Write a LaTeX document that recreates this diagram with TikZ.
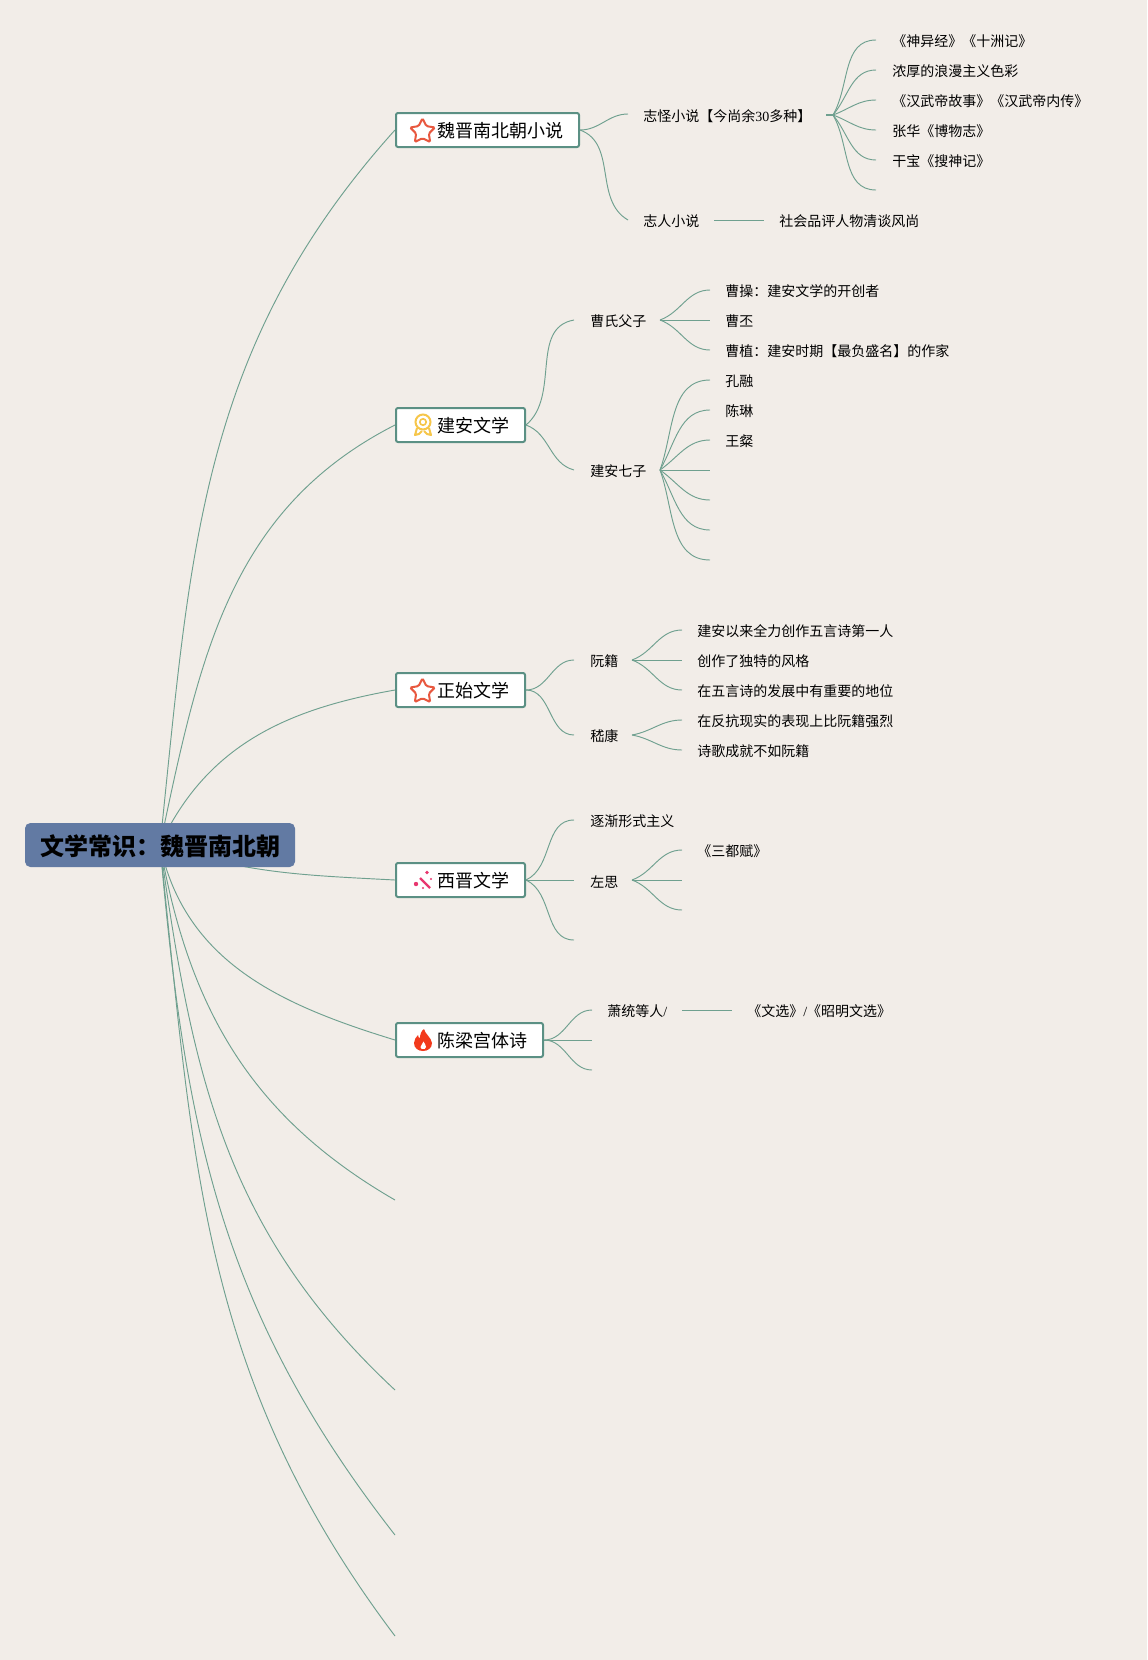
\documentclass[tikz,border=0pt]{standalone}
\usepackage{fontspec}
\setmainfont{Noto Sans CJK SC}
\newfontfamily\numfont{Liberation Serif}
\usetikzlibrary{shapes.geometric}
\pgfdeclarelayer{edgelayer}
\pgfdeclarelayer{nodelayer}
\pgfsetlayers{edgelayer,nodelayer,main}
\definecolor{paper}{HTML}{F2EDE8}
\definecolor{branch}{HTML}{6FA08F}
\definecolor{rim}{HTML}{5B9084}
\definecolor{rootfill}{HTML}{627AA3}
\definecolor{starred}{HTML}{E8583F}
\definecolor{medal}{HTML}{F6C64A}
\definecolor{wand}{HTML}{E8376F}
\definecolor{flame}{HTML}{F23A1C}
\tikzstyle{none} = [inner sep=0pt, outer sep=0pt]
\tikzstyle{leaf} = [anchor=west, inner sep=0pt, yshift=-.4pt, font=\fontsize{10.5pt}{12pt}\selectfont]
\tikzstyle{topic} = [draw=rim, line width=1.5pt, fill=white, rounded corners=1.5pt, minimum height=25.5pt, inner sep=0pt, anchor=west, font=\fontsize{13.5pt}{16pt}\selectfont]
\tikzstyle{root} = [fill=rootfill, rounded corners=4pt, minimum width=202.5pt, minimum height=33pt, inner sep=0pt, font=\fontsize{18pt}{22pt}\selectfont\bfseries]
\tikzstyle{new edge style 1} = [draw=branch, line width=.7pt]
\tikzstyle{star icon} = [star, star points=5, star point ratio=1.95, minimum size=19.5pt, inner sep=0pt, draw=starred, line width=1.5pt, fill=white, rounded corners=1pt]

\begin{document}
\begin{tikzpicture}[x=.75pt, y=-.75pt]
	\useasboundingbox (0, 0) rectangle (1147, 1660);
	\begin{pgfonlayer}{nodelayer}
		\node [style=root] (0) at (160, 845) {\raisebox{-7.5pt}[0pt][0pt]{文学常识：魏晋南北朝}};
		\node [style=topic, minimum width=137.25pt] (1) at (395, 130) {};
		\node [style=topic, minimum width=96.75pt] (2) at (395, 425) {};
		\node [style=topic, minimum width=96.75pt] (3) at (395, 690) {};
		\node [style=topic, minimum width=96.75pt] (4) at (395, 880) {};
		\node [style=topic, minimum width=110.25pt] (5) at (395, 1040) {};
		\node [style=leaf, font=\fontsize{13.5pt}{16pt}\selectfont] (6) at (437, 130.5) {魏晋南北朝小说};
		\node [style=leaf, font=\fontsize{13.5pt}{16pt}\selectfont] (7) at (437, 425.5) {建安文学};
		\node [style=leaf, font=\fontsize{13.5pt}{16pt}\selectfont] (8) at (437, 690.5) {正始文学};
		\node [style=leaf, font=\fontsize{13.5pt}{16pt}\selectfont] (9) at (437, 880.5) {西晋文学};
		\node [style=leaf, font=\fontsize{13.5pt}{16pt}\selectfont] (10) at (437, 1040.5) {陈梁宫体诗};
		\node [style=none] (11) at (395, 1200) {};
		\node [style=none] (12) at (395, 1390) {};
		\node [style=none] (13) at (395, 1535) {};
		\node [style=none] (14) at (395, 1636) {};

		\node [style=none] (20) at (628, 114) {};
		\node [style=none] (21) at (628, 220) {};
		\node [style=leaf] (22) at (643, 116) {志怪小说【今尚余{\numfont 30}多种】};
		\node [style=leaf] (23) at (643, 221) {志人小说};
		\node [style=none] (24) at (826, 115) {};
		\node [style=none] (25) at (833, 115) {};
		\node [style=none] (26) at (876, 40) {};
		\node [style=none] (27) at (876, 70) {};
		\node [style=none] (28) at (876, 100) {};
		\node [style=none] (29) at (876, 130) {};
		\node [style=none] (30) at (876, 160) {};
		\node [style=none] (31) at (876, 190) {};
		\node [style=leaf] (32) at (892, 41) {《神异经》《十洲记》};
		\node [style=leaf] (33) at (892, 71) {浓厚的浪漫主义色彩};
		\node [style=leaf] (34) at (892, 101) {《汉武帝故事》《汉武帝内传》};
		\node [style=leaf] (35) at (892, 131) {张华《博物志》};
		\node [style=leaf] (36) at (892, 161) {干宝《搜神记》};
		\node [style=none] (37) at (714, 220) {};
		\node [style=none] (38) at (764, 220) {};
		\node [style=leaf] (39) at (779, 221) {社会品评人物清谈风尚};

		\node [style=none] (40) at (574, 320) {};
		\node [style=none] (41) at (574, 470) {};
		\node [style=leaf] (42) at (590, 321) {曹氏父子};
		\node [style=leaf] (43) at (590, 471) {建安七子};
		\node [style=none] (44) at (660, 320) {};
		\node [style=none] (45) at (710, 290) {};
		\node [style=none] (46) at (710, 320) {};
		\node [style=none] (47) at (710, 350) {};
		\node [style=leaf] (48) at (725, 291) {曹操：建安文学的开创者};
		\node [style=leaf] (49) at (725, 321) {曹丕};
		\node [style=leaf] (50) at (725, 351) {曹植：建安时期【最负盛名】的作家};
		\node [style=none] (51) at (660, 470) {};
		\node [style=none] (52) at (710, 380) {};
		\node [style=none] (53) at (710, 410) {};
		\node [style=none] (54) at (710, 440) {};
		\node [style=none] (55) at (710, 470) {};
		\node [style=none] (56) at (710, 500) {};
		\node [style=none] (57) at (710, 530) {};
		\node [style=none] (58) at (710, 560) {};
		\node [style=leaf] (59) at (725, 381) {孔融};
		\node [style=leaf] (60) at (725, 411) {陈琳};
		\node [style=leaf] (61) at (725, 441) {王粲};

		\node [style=none] (62) at (574, 660) {};
		\node [style=none] (63) at (574, 735) {};
		\node [style=leaf] (64) at (590, 661) {阮籍};
		\node [style=leaf] (65) at (590, 736) {嵇康};
		\node [style=none] (66) at (632, 660) {};
		\node [style=none] (67) at (682, 630) {};
		\node [style=none] (68) at (682, 660) {};
		\node [style=none] (69) at (682, 690) {};
		\node [style=leaf] (70) at (697, 631) {建安以来全力创作五言诗第一人};
		\node [style=leaf] (71) at (697, 661) {创作了独特的风格};
		\node [style=leaf] (72) at (697, 691) {在五言诗的发展中有重要的地位};
		\node [style=none] (73) at (632, 735) {};
		\node [style=none] (74) at (682, 720) {};
		\node [style=none] (75) at (682, 750) {};
		\node [style=leaf] (76) at (697, 721) {在反抗现实的表现上比阮籍强烈};
		\node [style=leaf] (77) at (697, 751) {诗歌成就不如阮籍};

		\node [style=none] (78) at (574, 820) {};
		\node [style=none] (79) at (574, 880) {};
		\node [style=none] (80) at (574, 940) {};
		\node [style=leaf] (81) at (590, 821) {逐渐形式主义};
		\node [style=leaf] (82) at (590, 881) {左思};
		\node [style=none] (83) at (632, 880) {};
		\node [style=none] (84) at (682, 850) {};
		\node [style=none] (85) at (682, 880) {};
		\node [style=none] (86) at (682, 910) {};
		\node [style=leaf] (87) at (697, 851) {《三都赋》};

		\node [style=none] (88) at (592, 1010) {};
		\node [style=none] (89) at (592, 1040) {};
		\node [style=none] (90) at (592, 1070) {};
		\node [style=leaf] (91) at (607, 1011) {萧统等人{\numfont /}};
		\node [style=none] (92) at (682, 1010) {};
		\node [style=none] (93) at (732, 1010) {};
		\node [style=leaf] (94) at (747, 1011) {《文选》{\numfont /}《昭明文选》};
	\end{pgfonlayer}
	\begin{pgfonlayer}{edgelayer}
		\fill [paper] (0, 0) rectangle (1147, 1660);
		\draw [style=new edge style 1] (0.center) to [out=84, in=228] (1.west);
		\draw [style=new edge style 1] (0.center) to [out=78, in=207] (2.west);
		\draw [style=new edge style 1] (0.center) to [out=65, in=190] (3.west);
		\draw [style=new edge style 1] (0.center) to [out=-18, in=177] (4.west);
		\draw [style=new edge style 1] (0.center) to [out=-78, in=163] (5.west);
		\draw [style=new edge style 1] (0.center) to [out=-80, in=150] (11.center);
		\draw [style=new edge style 1] (0.center) to [out=-82, in=137] (12.center);
		\draw [style=new edge style 1] (0.center) to [out=-85, in=128] (13.center);
		\draw [style=new edge style 1] (0.center) to [out=-84, in=127] (14.center);

		\draw [style=new edge style 1] (1.east) to [out=0, in=180] (20.center);
		\draw [style=new edge style 1] (1.east) to [out=-20, in=150] (21.center);
		\draw [style=new edge style 1, line width=1.3pt] (24.center) to (25.center);
		\draw [style=new edge style 1] (25.center) to [out=60, in=180] (26.center);
		\draw [style=new edge style 1] (25.center) to [out=50, in=180] (27.center);
		\draw [style=new edge style 1] (25.center) to [out=20, in=180] (28.center);
		\draw [style=new edge style 1] (25.center) to [out=-20, in=180] (29.center);
		\draw [style=new edge style 1] (25.center) to [out=-50, in=180] (30.center);
		\draw [style=new edge style 1] (25.center) to [out=-60, in=180] (31.center);
		\draw [style=new edge style 1] (37.center) to (38.center);

		\draw [style=new edge style 1] (2.east) to [out=40, in=190] (40.center);
		\draw [style=new edge style 1] (2.east) to [out=-20, in=165] (41.center);
		\draw [style=new edge style 1] (44.center) to [out=20, in=180] (45.center);
		\draw [style=new edge style 1] (44.center) to (46.center);
		\draw [style=new edge style 1] (44.center) to [out=-20, in=180] (47.center);
		\draw [style=new edge style 1] (51.center) to [out=70, in=180] (52.center);
		\draw [style=new edge style 1] (51.center) to [out=60, in=180] (53.center);
		\draw [style=new edge style 1] (51.center) to [out=35, in=180] (54.center);
		\draw [style=new edge style 1] (51.center) to (55.center);
		\draw [style=new edge style 1] (51.center) to [out=-35, in=180] (56.center);
		\draw [style=new edge style 1] (51.center) to [out=-60, in=180] (57.center);
		\draw [style=new edge style 1] (51.center) to [out=-70, in=180] (58.center);

		\draw [style=new edge style 1] (3.east) to [out=0, in=180] (62.center);
		\draw [style=new edge style 1] (3.east) to [out=0, in=180] (63.center);
		\draw [style=new edge style 1] (66.center) to [out=20, in=180] (67.center);
		\draw [style=new edge style 1] (66.center) to (68.center);
		\draw [style=new edge style 1] (66.center) to [out=-20, in=180] (69.center);
		\draw [style=new edge style 1] (73.center) to [out=10, in=180] (74.center);
		\draw [style=new edge style 1] (73.center) to [out=-10, in=180] (75.center);

		\draw [style=new edge style 1] (4.east) to [out=25, in=180] (78.center);
		\draw [style=new edge style 1] (4.east) to (79.center);
		\draw [style=new edge style 1] (4.east) to [out=-25, in=180] (80.center);
		\draw [style=new edge style 1] (83.center) to [out=20, in=180] (84.center);
		\draw [style=new edge style 1] (83.center) to (85.center);
		\draw [style=new edge style 1] (83.center) to [out=-20, in=180] (86.center);

		\draw [style=new edge style 1] (5.east) to [out=0, in=180] (88.center);
		\draw [style=new edge style 1] (5.east) to (89.center);
		\draw [style=new edge style 1] (5.east) to [out=0, in=180] (90.center);
		\draw [style=new edge style 1] (92.center) to (93.center);
	\end{pgfonlayer}
	\node [style=star icon] (95) at (422.5, 131.5) {};
	\node [style=star icon] (96) at (422.5, 691.5) {};
	% medal
	\draw [medal, line width=1.5pt, line join=round] (417, 428) -- (415, 435) -- (419, 434) -- (422, 431);
	\draw [medal, line width=1.5pt, line join=round] (429, 428) -- (431, 435) -- (427, 434) -- (424, 431);
	\draw [medal, line width=1.5pt, fill=white] (423, 422) circle (7.5);
	\draw [medal, line width=1.2pt] (423, 422) circle (3.2);
	% wand
	\draw [wand, line width=1.8pt] (420, 878) -- (430, 888);
	\fill [wand] (416, 884) circle (2.2);
	\fill [wand] (427, 872.5) circle (1.8);
	\fill [wand] (431, 879) circle (1.1);
	\fill [wand] (423, 888) circle (1.1);
	% fire
	\fill [flame] (424, 1029) .. controls (425, 1034) and (431, 1037) .. (432, 1043) .. controls (432, 1048) and (428, 1051) .. (423, 1051) .. controls (418, 1051) and (414, 1048) .. (414, 1043) .. controls (414, 1040) and (416, 1037) .. (418, 1035) .. controls (418, 1037) and (419, 1038) .. (420, 1038) .. controls (420, 1035) and (421, 1031) .. (424, 1029) -- cycle;
	\fill [white] (423.5, 1041.5) .. controls (424, 1043.5) and (426.5, 1045) .. (426, 1047) .. controls (425.5, 1049) and (424.5, 1049) .. (423, 1049) .. controls (421.5, 1049) and (420.5, 1048.5) .. (420.5, 1047) .. controls (420.5, 1045) and (423, 1044) .. (423.5, 1041.5) -- cycle;
\end{tikzpicture}
\end{document}
